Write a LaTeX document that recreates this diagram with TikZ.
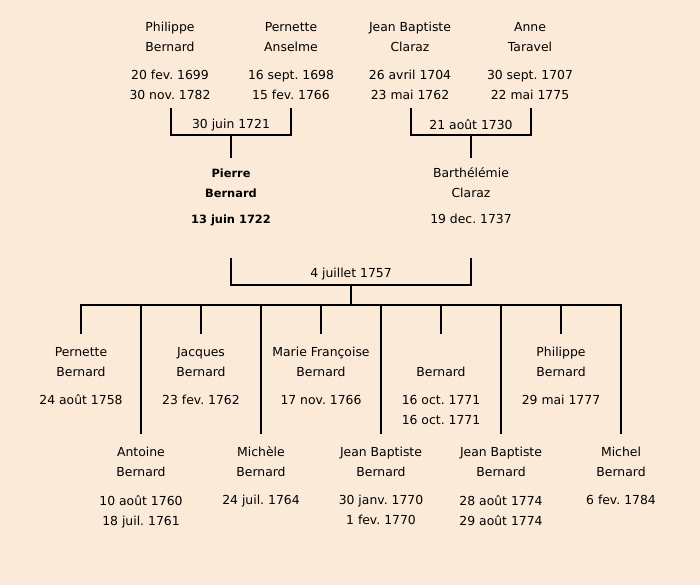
\documentclass[tikz,border=0pt]{standalone}
\usepackage{fontspec}
\setmainfont{DejaVu Sans}
\definecolor{bg}{RGB}{252,234,216}
\frenchspacing
\begin{document}
\begin{tikzpicture}[x=1pt,y=-1pt,
  txt/.style={align=center,inner sep=0pt,font=\fontsize{12.4}{20}\selectfont},
  btxt/.style={txt,font=\fontsize{11.4}{20}\selectfont\bfseries},
  lnk/.style={line width=2.4pt,line cap=rect}]
\useasboundingbox[fill=bg] (0,0) rectangle (700,585);
% --- grandparents
\node[txt] (pbn) at (170,37) {Philippe\\Bernard};
\node[txt] (pbd) at (170,85) {20 fev. 1699\\30 nov. 1782};
\node[txt] (pan) at (291,37) {Pernette\\Anselme};
\node[txt] (pad) at (291,85) {16 sept. 1698\\15 fev. 1766};
\node[txt] (jcn) at (410,37) {Jean Baptiste\\Claraz};
\node[txt] (jcd) at (410,85) {26 avril 1704\\23 mai 1762};
\node[txt] (atn) at (530,37) {Anne\\Taravel};
\node[txt] (atd) at (530,85) {30 sept. 1707\\22 mai 1775};
% marriage 1
\coordinate (m1a) at (171,109);
\coordinate (m1b) at (291,109);
\coordinate (m1c) at (231,135);
\coordinate (m1e) at (231,157);
\node[txt] (m1t) at (231,125) {30 juin 1721};
\draw[lnk] (m1a) |- (m1c) -| (m1b);
\draw[lnk] (m1c) -- (m1e);
% marriage 2
\coordinate (m2a) at (411,109);
\coordinate (m2b) at (531,109);
\coordinate (m2c) at (471,135);
\coordinate (m2e) at (471,157);
\node[txt] (m2t) at (471,125) {21 août 1730};
\draw[lnk] (m2a) |- (m2c) -| (m2b);
\draw[lnk] (m2c) -- (m2e);
% parents
\node[btxt] (prn) at (231,183) {Pierre\\Bernard};
\node[btxt] (prd) at (231,220) {13 juin 1722};
\node[txt] (bcn) at (471,183) {Barthélémie\\Claraz};
\node[txt] (bcd) at (471,219) {19 dec. 1737};
% marriage 3
\coordinate (m3a) at (231,259);
\coordinate (m3b) at (471,259);
\coordinate (m3c) at (351,285);
\coordinate (m3e) at (351,305);
\node[txt] (m3t) at (351,274) {4 juillet 1757};
\draw[lnk] (m3a) |- (m3c) -| (m3b);
\draw[lnk] (m3c) -- (m3e);
% children bar
\coordinate (c1) at (81,305);
\coordinate (c10) at (621,305);
\draw[lnk] (c1) -- (c10);
% upper children
\foreach \x/\n/\a/\b/\d in {
  81/k1/Pernette/Bernard/{24 août 1758},
  201/k3/Jacques/Bernard/{23 fev. 1762},
  321/k5/Marie Françoise/Bernard/{17 nov. 1766},
  561/k9/Philippe/Bernard/{29 mai 1777}}{
  \coordinate (\n t) at (\x,305);
  \coordinate (\n b) at (\x,333);
  \draw[lnk] (\n t) -- (\n b);
  \node[txt] (\n n) at (\x,362) {\a\\\b};
  \node[txt] (\n d) at (\x,400) {\d};
}
\coordinate (k7t) at (441,305);
\coordinate (k7b) at (441,333);
\draw[lnk] (k7t) -- (k7b);
\node[txt] (k7n) at (441,372) {Bernard};
\node[txt] (k7d) at (441,410) {16 oct. 1771\\16 oct. 1771};
% lower children
\foreach \x/\n/\a/\b/\d in {
  141/k2/Antoine/Bernard/{10 août 1760\\18 juil. 1761},
  261/k4/Michèle/Bernard/{24 juil. 1764},
  381/k6/Jean Baptiste/Bernard/{30 janv. 1770\\1 fev. 1770},
  501/k8/Jean Baptiste/Bernard/{28 août 1774\\29 août 1774},
  621/k10/Michel/Bernard/{6 fev. 1784}}{
  \coordinate (\n t) at (\x,305);
  \coordinate (\n b) at (\x,433);
  \draw[lnk] (\n t) -- (\n b);
  \node[txt] (\n n) at (\x,462) {\a\\\b};
  \node[txt,anchor=north] (\n d) at (\x,495) {\d};
}
\end{tikzpicture}
\end{document}
